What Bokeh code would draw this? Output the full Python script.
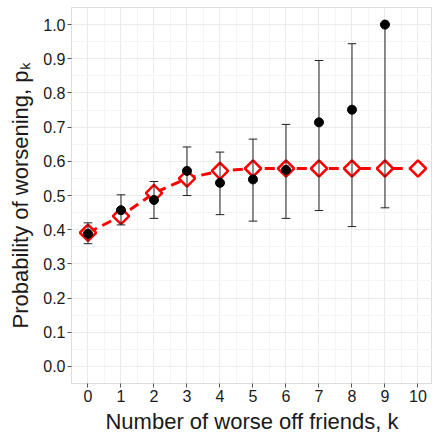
import numpy as np
from bokeh.plotting import figure
from bokeh.models import Range1d, FixedTicker, ColumnDataSource, CustomJSTickFormatter
from bokeh.embed import file_html
from bokeh.resources import INLINE

# Observed data (k, probability, 95% interval)
k_obs = [0, 1, 2, 3, 4, 5, 6, 7, 8, 9]
p_obs = [0.388, 0.457, 0.487, 0.572, 0.537, 0.547, 0.575, 0.714, 0.751, 1.0]
lo_obs = [0.359, 0.414, 0.433, 0.500, 0.444, 0.425, 0.433, 0.456, 0.409, 0.464]
hi_obs = [0.420, 0.502, 0.541, 0.642, 0.627, 0.665, 0.708, 0.895, 0.944, 1.0]

# Model prediction
k_mod = [0, 1, 2, 3, 4, 5, 6, 7, 8, 9, 10]
p_mod = [0.391, 0.440, 0.507, 0.550, 0.572, 0.579, 0.579, 0.579, 0.579, 0.579, 0.579]

x_ticks = list(range(11))
y_ticks = [round(0.1 * i, 1) for i in range(11)]

FONT = "Liberation Sans"

p = figure(width=432, height=436, output_backend="svg", toolbar_location=None,
           x_range=Range1d(-0.5, 10.44), y_range=Range1d(-0.05, 1.05),
           min_border_left=71, min_border_right=0, min_border_top=7, min_border_bottom=49)
p.background_fill_color = "white"
p.border_fill_color = "white"
p.outline_line_color = "#DDDDDD"
p.outline_line_width = 1

p.xaxis.ticker = FixedTicker(ticks=x_ticks, minor_ticks=[x + 0.5 for x in range(-1, 11)])
p.yaxis.ticker = FixedTicker(ticks=y_ticks, minor_ticks=[round(0.05 + 0.1 * i, 2) for i in range(-1, 11)])
p.yaxis.formatter = CustomJSTickFormatter(code="return tick.toFixed(1);")

for ax in (p.xaxis[0], p.yaxis[0]):
    ax.axis_line_color = "#DDDDDD"
    ax.major_tick_line_color = "#555555"
    ax.major_tick_in = 0
    ax.major_tick_out = 4
    ax.minor_tick_line_color = None
    ax.major_label_text_font = FONT
    ax.major_label_text_font_size = "16px"
    ax.major_label_text_color = "#1a1a1a"
    ax.axis_label_text_font = FONT
    ax.axis_label_text_font_size = "22px"
    ax.axis_label_text_font_style = "normal"
    ax.axis_label_text_color = "#1a1a1a"
    ax.major_label_standoff = 2

p.xaxis.axis_label = "Number of worse off friends, k"
p.yaxis.axis_label = "Probability of worsening, p\u2096"
p.xaxis.axis_label_standoff = 4
p.yaxis.axis_label_standoff = 7

p.xgrid.grid_line_color = "#EBEBEB"
p.ygrid.grid_line_color = "#EBEBEB"
p.xgrid.minor_grid_line_color = "#F5F5F5"
p.ygrid.minor_grid_line_color = "#F5F5F5"

# model line + diamonds
p.line(k_mod, p_mod, line_color="#FF0000", line_width=3, line_dash="10 6")
p.scatter(k_mod, p_mod, marker="square", angle=np.pi / 4, size=11.5,
          fill_color="white", line_color="#FF0000", line_width=2.5)

# error bars
cap = 0.13
src = ColumnDataSource(dict(k=k_obs, p=p_obs, lo=lo_obs, hi=hi_obs,
                            kl=[k - cap for k in k_obs], kr=[k + cap for k in k_obs]))
p.segment(x0="k", y0="lo", x1="k", y1="hi", source=src, line_color="#222222", line_width=1)
p.segment(x0="kl", y0="lo", x1="kr", y1="lo", source=src, line_color="#222222", line_width=1)
p.segment(x0="kl", y0="hi", x1="kr", y1="hi", source=src, line_color="#222222", line_width=1)

# observed points
p.scatter("k", "p", source=src, marker="circle", size=9, fill_color="black", line_color="black")

open("out.html", "w").write(file_html(p, INLINE))
